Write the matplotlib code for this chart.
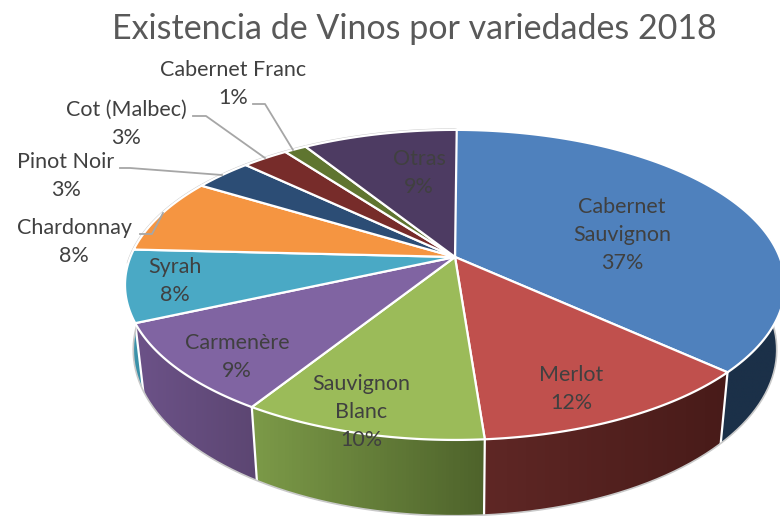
import numpy as np
import matplotlib
matplotlib.use("Agg")
import matplotlib.pyplot as plt
from matplotlib.patches import Polygon

plt.rcParams['font.family'] = ['Lato', 'DejaVu Sans']

title = "Existencia de Vinos por variedades 2018"
categories = ["Cabernet\nSauvignon", "Merlot", "Sauvignon\nBlanc", "Carmenère", "Syrah",
              "Chardonnay", "Pinot Noir", "Cot (Malbec)", "Cabernet Franc", "Otras"]
# shares, the labels show them rounded
values = [36.8, 12.0, 10.1, 9.4, 7.5, 7.9, 3.4, 2.7, 1.3, 9.0]
colors = ["#4f81bd", "#c0504d", "#9bbb59", "#8064a2", "#4aa9c5",
          "#f59541", "#2c4d75", "#772c2a", "#5f7530", "#4d3b62"]
# side wall colours, left and right end of the gradient
wall_left = ["#1b3048", "#5f2725", "#7c9a48", "#6c5288", "#3f9bb3"]
wall_right = ["#1b3048", "#481b19", "#4e632b", "#5c4672", "#3a8ca3"]
label_x = [622, 571, 361, 237, 175, 74, 66, 126, 233, 419]
label_y = [235, 389, 412, 357, 281, 242, 176, 124, 84, 173]
leaders = {
    "Chardonnay": [(140, 234), (152, 234), (163, 213)],
    "Pinot Noir": [(120, 168), (130, 168), (222, 175)],
    "Cot (Malbec)": [(193, 116), (206, 116), (265, 158)],
    "Cabernet Franc": [(253, 104), (265, 104), (293, 150)],
}

# perspective of the tilted disc, pixels
cx, cy = 455, 257
bx, by, persp = 324.6, 150, 0.18


def top_rim(a):
    x, y = np.sin(a), np.cos(a)
    w = 1 + persp * y
    return cx + bx * x / w, cy - by * y / w


def bottom_rim(a):
    px, py = top_rim(a)
    return cx + (px - cx) * 0.975, cy + (py - cy) * 1.07 + 63


fig = plt.figure(figsize=(7.8, 5.16), dpi=100)
ax = fig.add_axes([0, 0, 1, 1])
ax.set_xlim(0, 780)
ax.set_ylim(516, 0)
ax.axis("off")

edges = np.radians(np.cumsum([0] + values) * 3.6)

# side walls, only the part that faces the viewer
for i in range(len(wall_left)):
    a0, a1 = edges[i], edges[i + 1]
    a0 = max(a0, np.radians(90))
    a1 = min(a1, np.radians(268))
    a = np.linspace(a0, a1, 60)
    ux, uy = top_rim(a)
    lx, ly = bottom_rim(a)
    pts = np.r_[np.c_[ux, uy], np.c_[lx, ly][::-1]]
    poly = Polygon(pts, closed=True, fc="none", ec="none", transform=ax.transData)
    ax.add_patch(poly)
    c0 = np.array(matplotlib.colors.to_rgb(wall_left[i]))
    c1 = np.array(matplotlib.colors.to_rgb(wall_right[i]))
    t = np.linspace(0, 1, 64)[None, :, None]
    grad = c0 + (c1 - c0) * t
    im = ax.imshow(grad, extent=(pts[:, 0].min(), pts[:, 0].max(), pts[:, 1].max(), pts[:, 1].min()),
                   aspect="auto", zorder=1)
    im.set_clip_path(poly)
    # white seam at the front end of the wedge
    if i > 0 and edges[i] > np.radians(90):
        sx0, sy0 = top_rim(edges[i])
        sx1, sy1 = bottom_rim(edges[i])
        ax.plot([sx0, sx1], [sy0, sy1], color="white", lw=1.6, zorder=2)
ax.set_xlim(0, 780)
ax.set_ylim(516, 0)

# outer lower edge
a = np.linspace(np.radians(90), np.radians(268), 200)
lx, ly = bottom_rim(a)
ax.plot(lx, ly, color="#c9c9c9", lw=1.2, zorder=2)

# upper rim on the far side
a = np.linspace(np.radians(268), np.radians(360), 120)
ux, uy = top_rim(a)
ax.plot(ux, uy, color="#c9c9c9", lw=2.2, zorder=2.5)

# top face
for i, col in enumerate(colors):
    a = np.linspace(edges[i], edges[i + 1], 120)
    ux, uy = top_rim(a)
    pts = np.r_[[[cx, cy]], np.c_[ux, uy]]
    ax.add_patch(Polygon(pts, closed=True, fc=col, ec="white", lw=1.6, joinstyle="round", zorder=3))

for name, pts in leaders.items():
    xs, ys = zip(*pts)
    ax.plot(xs, ys, color="#a6a6a6", lw=1.3, zorder=4)

for name, val, x, y in zip(categories, values, label_x, label_y):
    ax.text(x, y, f"{name}\n{val:.0f}%", ha="center", va="center", fontsize=15.5,
            color="#404040", linespacing=1.5, zorder=5)

ax.text(414, 29, title, ha="center", va="center", fontsize=24.5, color="#595959", zorder=5)

fig.savefig("out.png", dpi=100)
